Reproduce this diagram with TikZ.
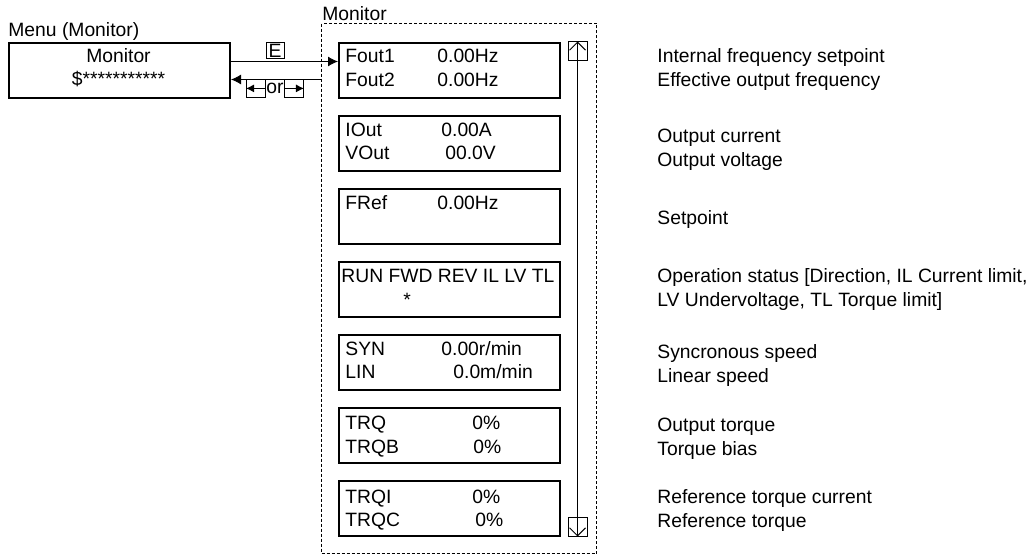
\documentclass[tikz,border=0pt]{standalone}
\usepackage{fontspec}
\setmainfont{Liberation Sans}
\usetikzlibrary{arrows.meta,positioning}

\begin{document}
\begin{tikzpicture}[x=0.5pt,y=-0.5pt,>={Latex[length=5pt,width=5pt]},
  font=\fontsize{9.65}{12}\selectfont]
  \tikzset{screen/.style={draw,line width=1pt,minimum width=110.5pt,minimum height=27.5pt,inner sep=0pt,anchor=north west}}
  \tikzset{txt/.style={inner sep=0pt,anchor=base west}}
  % base of a two line node is the last line
  \tikzset{desc/.style={inner sep=0pt,anchor=base west,align=left}}
  \tikzset{keybox/.style={draw,line width=0.5pt,inner sep=0pt,minimum width=9.5pt,minimum height=9pt}}
  \tikzset{scrollbox/.style={draw,line width=0.5pt,minimum size=9.5pt,inner sep=0pt}}
  \useasboundingbox (0,0) rectangle (1032,556);

  % menu
  \node[txt] (menutitle) at (8,37) {Menu (Monitor)};
  \node[screen] (menu) at (8,42) {};
  \node[inner sep=0pt,anchor=base] (menu1) at (118.5,63) {Monitor};
  \node[inner sep=0pt,anchor=base] (menu2) at (118.5,86) {\$***********};

  % monitor frame
  \node[txt] (montitle) at (322,20.5) {Monitor};
  \node[draw,line width=0.5pt,dash pattern=on 1.5pt off 1pt,minimum width=137.5pt,minimum height=265pt,inner sep=0pt,anchor=north west] (frame) at (321,23) {};

  % screens
  \foreach \n/\t in {1/42,2/115,3/188,4/261,5/334,6/407,7/480}
    \node[screen] (s\n) at (338,\t) {};

  \node[txt] (fout1) at (345,63) {Fout1};
  \node[txt] (fout1v) at (437,63) {0.00Hz};
  \node[txt] (fout2) at (345,86.5) {Fout2};
  \node[txt] (fout2v) at (437,86.5) {0.00Hz};

  \node[txt] (iout) at (345,136) {IOut};
  \node[txt] (ioutv) at (441,136) {0.00A};
  \node[txt] (vout) at (345,159.5) {VOut};
  \node[txt] (voutv) at (445,159.5) {00.0V};

  \node[txt] (fref) at (345,209) {FRef};
  \node[txt] (frefv) at (437,209) {0.00Hz};

  \node[txt] (run) at (341,282) {RUN FWD REV IL LV TL};
  \node[txt] (runv) at (403,306) {*};

  \node[txt] (syn) at (345,355) {SYN};
  \node[txt] (synv) at (441,355) {0.00r/min};
  \node[txt] (lin) at (345,378.5) {LIN};
  \node[txt] (linv) at (453,378.5) {0.0m/min};

  \node[txt] (trq) at (345,429) {TRQ};
  \node[txt] (trqv) at (472,429) {0\%};
  \node[txt] (trqb) at (345,453) {TRQB};
  \node[txt] (trqbv) at (473,453) {0\%};

  \node[txt] (trqi) at (345,503) {TRQI};
  \node[txt] (trqiv) at (472,503) {0\%};
  \node[txt] (trqc) at (345,526) {TRQC};
  \node[txt] (trqcv) at (475,526) {0\%};

  % keys and arrows
  \draw[->,line width=0.5pt] ([yshift=4.5pt]menu.east) -- ([yshift=4.5pt]s1.west);
  \node[keybox,minimum width=9pt,minimum height=8pt] (ekey) at (275,51) {E};
  \coordinate (ret) at (frame.west |- menu.east);
  \draw[<-,line width=0.5pt] ([yshift=-4.5pt]menu.east) -- ([yshift=-4.5pt]ret);
  \node[inner sep=0pt,anchor=base] (orword) at (275,93.5) {or};
  \node[keybox,left=0pt of orword] (lkey) {};
  \node[keybox,right=0pt of orword] (rkey) {};
  \draw[-{Latex[length=4pt,width=4pt]},line width=0.5pt] (lkey.east) -- (lkey.west);
  \draw[-{Latex[length=4pt,width=4pt]},line width=0.5pt] (rkey.west) -- (rkey.east);

  % scroll bar
  \node[scrollbox] (up) at (577.5,51.5) {};
  \node[scrollbox] (down) at (577.5,526.5) {};
  \draw[{Straight Barb[length=4pt,width=8pt]}-{Straight Barb[length=4pt,width=8pt]},line width=0.5pt] (up.north) -- (down.south);

  % descriptions
  \node[desc] (d1) at (657,87) {Internal frequency setpoint\\Effective output frequency};
  \node[desc] (d2) at (657,166) {Output current\\Output voltage};
  \node[desc] (d3) at (657,224) {Setpoint};
  \node[desc] (d4) at (657,306) {Operation status [Direction, IL Current limit,\\LV Undervoltage, TL Torque limit]};
  \node[desc] (d5) at (657,382) {Syncronous speed\\Linear speed};
  \node[desc] (d6) at (657,455) {Output torque\\Torque bias};
  \node[desc] (d7) at (657,527) {Reference torque current\\Reference torque};
\end{tikzpicture}
\end{document}
